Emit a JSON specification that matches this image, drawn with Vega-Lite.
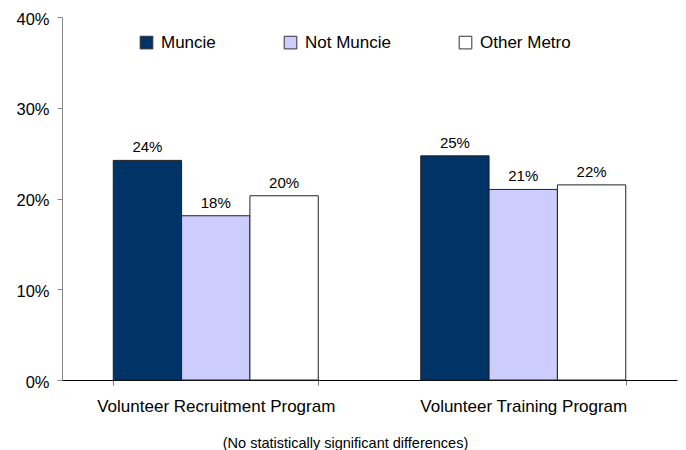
{
  "$schema": "https://vega.github.io/schema/vega-lite/v6.json",
  "width": 615,
  "height": 363,
  "autosize": {"type": "none"},
  "padding": {"left": 62, "top": 17, "right": 9, "bottom": 70},
  "background": "white",
  "config": {
    "view": {"stroke": null},
    "font": "Liberation Sans",
    "axis": {"labelFont": "Liberation Sans", "titleFont": "Liberation Sans", "labelColor": "#000", "titleColor": "#000", "grid": false},
    "legend": {"labelFont": "Liberation Sans"}
  },
  "data": {
    "values": [
      {"program": "Volunteer Recruitment Program", "group": "Muncie", "value": 0.242, "label": "24%"},
      {"program": "Volunteer Recruitment Program", "group": "Not Muncie", "value": 0.181, "label": "18%"},
      {"program": "Volunteer Recruitment Program", "group": "Other Metro", "value": 0.203, "label": "20%"},
      {"program": "Volunteer Training Program", "group": "Muncie", "value": 0.247, "label": "25%"},
      {"program": "Volunteer Training Program", "group": "Not Muncie", "value": 0.210, "label": "21%"},
      {"program": "Volunteer Training Program", "group": "Other Metro", "value": 0.215, "label": "22%"}
    ]
  },
  "encoding": {
    "x": {
      "field": "program", "type": "nominal", "sort": null,
      "scale": {"paddingInner": 0.3333, "paddingOuter": 0.16667},
      "axis": {
        "title": "(No statistically significant differences)",
        "titleFontSize": 14.5, "titleFontWeight": "normal",
        "titleX": 283, "titleY": 56, "titleAnchor": null, "titleAlign": "center", "titleBaseline": "top",
        "labelAngle": 0, "labelFontSize": 17, "labelPadding": 13, "labelLimit": 400,
        "domainColor": "#000", "domainWidth": 1,
        "tickColor": "#777", "tickSize": 5, "tickBand": "extent"
      }
    },
    "xOffset": {"field": "group", "type": "nominal", "sort": ["Muncie", "Not Muncie", "Other Metro"], "scale": {"paddingInner": 0, "paddingOuter": 0}},
    "y": {
      "field": "value", "type": "quantitative",
      "scale": {"domain": [0, 0.4], "nice": false},
      "axis": {
        "title": null, "values": [0, 0.1, 0.2, 0.3, 0.4], "format": ".0%",
        "labelFontSize": 16.5, "labelPadding": 8, "labelOffset": 2,
        "domainColor": "#888", "tickColor": "#888", "tickSize": 5
      }
    }
  },
  "layer": [
    {
      "mark": {"type": "bar", "stroke": "#222", "strokeWidth": 1},
      "encoding": {
        "fill": {
          "field": "group", "type": "nominal",
          "scale": {"domain": ["Muncie", "Not Muncie", "Other Metro"], "range": ["#003366", "#CCCCFF", "#FFFFFF"]},
          "legend": {
            "title": null, "orient": "none", "direction": "horizontal",
            "legendX": 76, "legendY": 17,
            "symbolType": "square", "symbolSize": 160, "symbolStrokeColor": "#333", "symbolStrokeWidth": 1, "symbolOpacity": 1,
            "labelFontSize": 17, "labelOffset": 6, "columnPadding": 66, "labelColor": "#000", "labelLimit": 300
          }
        }
      }
    },
    {
      "mark": {"type": "text", "dy": -8, "fontSize": 15, "color": "#000", "baseline": "alphabetic"},
      "encoding": {"text": {"field": "label"}}
    }
  ]
}
